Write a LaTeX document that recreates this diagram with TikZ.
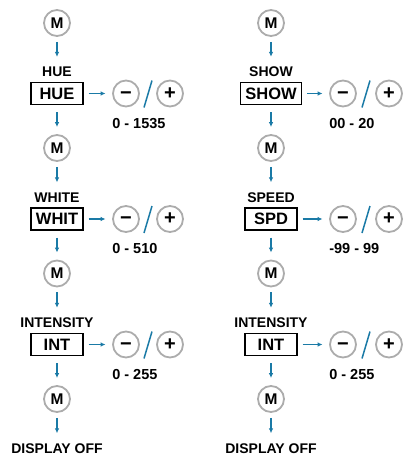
\documentclass[tikz,border=0pt]{standalone}
\usepackage{fontspec}
\setmainfont{Liberation Sans}
\usetikzlibrary{arrows.meta,calc}
\definecolor{flowblue}{RGB}{26,122,166}
\definecolor{ringgray}{RGB}{172,172,172}
\tikzset{
	flow/.style={-{Latex[length=5pt,width=4.5pt]}, flowblue, line width=1.1pt},
	slash/.style={flowblue, line width=1.5pt},
	modebtn/.style={circle, draw=ringgray, line width=1.8pt, minimum size=26pt, inner sep=0pt, font=\fontsize{15.5}{16}\selectfont\bfseries},
	signbtn/.style={modebtn, font=\fontsize{20}{20}\selectfont\bfseries, text height=11.6pt, text depth=0pt},
	menutitle/.style={inner sep=0pt, font=\fontsize{14}{14}\selectfont\bfseries},
	lcd/.style={draw, line width=1.2pt, minimum width=52pt, minimum height=22pt, inner xsep=5pt, inner ysep=0pt, font=\fontsize{16.5}{16.5}\selectfont\bfseries},
	valrange/.style={anchor=west, inner sep=0pt, font=\fontsize{14.5}{14.5}\selectfont\bfseries}
}
\begin{document}
\begin{tikzpicture}[x=1pt,y=-1pt]
	\useasboundingbox (0,0) rectangle (409,466);
	% left column
	\node[modebtn] (lm0) at (57,23) {M};
	\foreach \r/\tl/\bx/\rg in {0/HUE/HUE/0 - 1535, 1/WHITE/WHIT/0 - 510, 2/INTENSITY/INT/0 - 255}{
		\pgfmathtruncatemacro\nx{\r+1}
		\node[menutitle] (lt\r) at (57,72+125.5*\r) {\tl};
		\node[lcd] (lb\r) at (57,93.5+125.5*\r) {\bx};
		\node[signbtn] (lminus\r) at (126,93.5+125.5*\r) {−};
		\node[signbtn] (lplus\r) at (170,93.5+125.5*\r) {+};
		\node[valrange] (lr\r) at ([yshift=-30pt]lminus\r.west) {\rg};
		\node[modebtn] (lm\nx) at (57,148+125.5*\r) {M};
		\draw[flow, shorten <=5pt, shorten >=10pt] (lm\r) -- (lt\r);
		\draw[flow, shorten <=7pt, shorten >=7pt] (lb\r) -- (lm\nx);
		\draw[flow, shorten <=5pt, shorten >=6.5pt] (lb\r) -- (lminus\r);
		\draw[slash] ($(lminus\r.east)!0.5!(lplus\r.west)+(-4,14)$) -- ($(lminus\r.east)!0.5!(lplus\r.west)+(4,-13)$);
	}
	\node[menutitle] (lt3) at (57,448.5) {DISPLAY OFF};
	\draw[flow, shorten <=5pt, shorten >=10pt] (lm3) -- (lt3);
	% right column
	\node[modebtn] (rm0) at (271,23) {M};
	\foreach \r/\tl/\bx/\rg in {0/SHOW/SHOW/00 - 20, 1/SPEED/SPD/-99 - 99, 2/INTENSITY/INT/0 - 255}{
		\pgfmathtruncatemacro\nx{\r+1}
		\node[menutitle] (rt\r) at (271,72+125.5*\r) {\tl};
		\node[lcd] (rb\r) at (271,93.5+125.5*\r) {\bx};
		\node[signbtn] (rminus\r) at (343,93.5+125.5*\r) {−};
		\node[signbtn] (rplus\r) at (389,93.5+125.5*\r) {+};
		\node[valrange] (rr\r) at ([yshift=-30pt]rminus\r.west) {\rg};
		\node[modebtn] (rm\nx) at (271,148+125.5*\r) {M};
		\draw[flow, shorten <=5pt, shorten >=10pt] (rm\r) -- (rt\r);
		\draw[flow, shorten <=7pt, shorten >=7pt] (rb\r) -- (rm\nx);
		\draw[flow, shorten <=5pt, shorten >=6.5pt] (rb\r) -- (rminus\r);
		\draw[slash] ($(rminus\r.east)!0.5!(rplus\r.west)+(-4,14)$) -- ($(rminus\r.east)!0.5!(rplus\r.west)+(4,-13)$);
	}
	\node[menutitle] (rt3) at (271,448.5) {DISPLAY OFF};
	\draw[flow, shorten <=5pt, shorten >=10pt] (rm3) -- (rt3);
\end{tikzpicture}
\end{document}
